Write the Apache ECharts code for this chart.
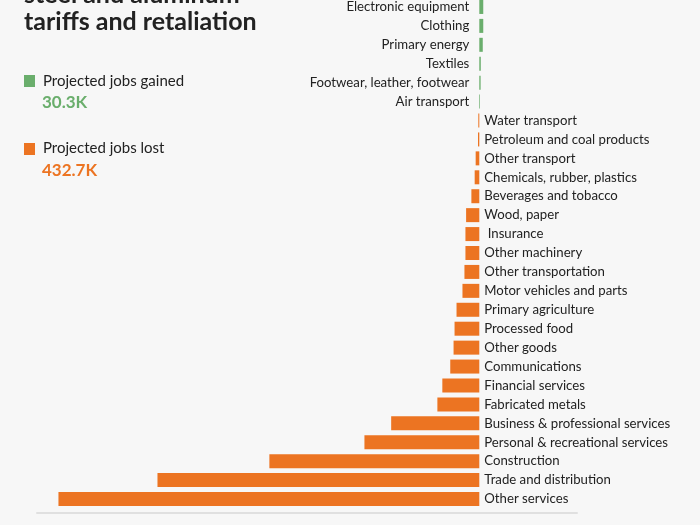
<!DOCTYPE html>
<html>
<head>
<meta charset="utf-8">
<style>
  html, body { margin: 0; padding: 0; background: #f7f7f7; overflow: hidden; }
  #chart { width: 700px; height: 535px; margin-top: -10px; }
</style>
<script src="https://cdn.jsdelivr.net/npm/echarts@6/dist/echarts.min.js"></script>
</head>
<body>
<div id="chart"></div>
<script>
// Sectors, top to bottom
const categories = [
  'Electronic equipment', 'Clothing', 'Primary energy', 'Textiles',
  'Footwear, leather, footwear', 'Air transport', 'Water transport',
  'Petroleum and coal products', 'Other transport', 'Chemicals, rubber, plastics',
  'Beverages and tobacco', 'Wood, paper', ' Insurance', 'Other machinery',
  'Other transportation', 'Motor vehicles and parts', 'Primary agriculture',
  'Processed food', 'Other goods', 'Communications', 'Financial services',
  'Fabricated metals', 'Business & professional services',
  'Personal & recreational services', 'Construction', 'Trade and distribution',
  'Other services'
];
// Projected jobs change, thousands (positive = gained, negative = lost)
const jobsChange = [
  1.2, 1.2, 1.05, 0.45, 0.4, 0.2, -0.3, -0.4, -1.1, -1.4, -2.4, -4.0, -4.2,
  -4.2, -4.5, -5.1, -6.9, -7.5, -7.8, -8.8, -11.2, -12.7, -26.7, -34.8,
  -63.6, -97.5, -127.5
];
const legendLabels = ['Projected jobs gained', 'Projected jobs lost'];
const legendTotals = ['30.3K', '432.7K'];
const titleLines = ['steel and aluminum', 'tariffs and retaliation'];

const GREEN = '#6aae6c';
const ORANGE = '#ec7422';
const FONT = 'Lato';
const SHIFT = 10; // chart div is shifted up by this many pixels

const chart = echarts.init(document.getElementById('chart'));
const data = jobsChange.map(v => ({
  value: v,
  itemStyle: { color: v >= 0 ? GREEN : ORANGE },
  label: {
    position: v >= 0 ? 'left' : 'right',
    distance: v >= 0 ? 10 : 5
  }
}));

chart.setOption({
  backgroundColor: '#f7f7f7',
  animation: false,
  grid: { left: 37, width: 540, top: 7.5, height: 511, containLabel: false },
  xAxis: {
    type: 'value', min: -134, max: 29.6,
    offset: 4.5,
    axisLine: { show: true, lineStyle: { color: '#e0e0e0', width: 2 } },
    axisTick: { show: false }, axisLabel: { show: false }, splitLine: { show: false }
  },
  yAxis: {
    type: 'category', data: categories, inverse: true,
    axisLine: { show: false }, axisTick: { show: false }, axisLabel: { show: false }
  },
  series: [{
    type: 'bar',
    data: data,
    barWidth: 14,
    label: {
      show: true,
      formatter: p => categories[p.dataIndex],
      color: '#222',
      fontFamily: FONT,
      fontSize: 13.2
    }
  }],
  graphic: [
    { type: 'text', x: 24, y: 7 + SHIFT, style: { text: titleLines[0], font: 'bold 25px ' + FONT, fill: '#222', textVerticalAlign: 'bottom' } },
    { type: 'text', x: 24, y: 34 + SHIFT, style: { text: titleLines[1], font: 'bold 25px ' + FONT, fill: '#222', textVerticalAlign: 'bottom' } },
    { type: 'rect', shape: { x: 24, y: 75 + SHIFT, width: 11, height: 12 }, style: { fill: GREEN } },
    { type: 'text', x: 43, y: 81 + SHIFT, style: { text: legendLabels[0], font: '15px ' + FONT, fill: '#222', textVerticalAlign: 'middle' } },
    { type: 'text', x: 42, y: 103 + SHIFT, style: { text: legendTotals[0], font: 'bold 17px ' + FONT, fill: GREEN, textVerticalAlign: 'middle' } },
    { type: 'rect', shape: { x: 24, y: 143 + SHIFT, width: 11, height: 12 }, style: { fill: ORANGE } },
    { type: 'text', x: 43, y: 148 + SHIFT, style: { text: legendLabels[1], font: '15px ' + FONT, fill: '#222', textVerticalAlign: 'middle' } },
    { type: 'text', x: 42, y: 171 + SHIFT, style: { text: legendTotals[1], font: 'bold 17px ' + FONT, fill: ORANGE, textVerticalAlign: 'middle' } }
  ]
});
</script>
</body>
</html>
